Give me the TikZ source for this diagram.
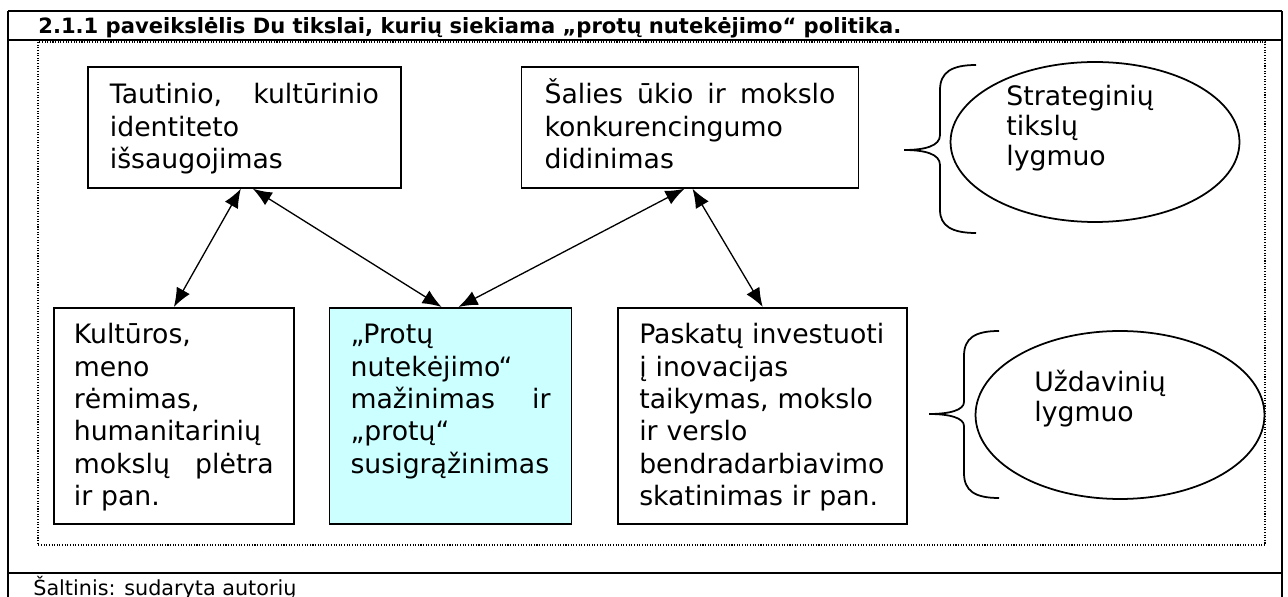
\documentclass[tikz,border=0pt]{standalone}
\usepackage{fontspec}
\setmainfont{DejaVu Sans}
\usepackage{tikz}
\usetikzlibrary{calc,positioning,shapes,arrows.meta}
\definecolor{boxcyan}{RGB}{204,255,255}
\hyphenpenalty=10000
\exhyphenpenalty=10000

\begin{document}
\begin{tikzpicture}[x=0.02cm,y=-0.02cm,
		txt/.style={font=\fontsize{15.2pt}{18.4pt}\selectfont},
		goal/.style={txt,draw,line width=1pt,align=left,inner ysep=0pt,text height=0.74cm,text depth=1.68cm},
		task/.style={txt,draw,line width=1pt,align=left,inner ysep=0pt,text height=0.72cm,text depth=3.6cm},
		link/.style={{Latex[length=0.38cm,width=0.3cm]}-{Latex[length=0.38cm,width=0.3cm]},line width=0.75pt},
		frame/.style={line width=1.2pt},
		level/.style={draw,ellipse,line width=1pt,minimum width=5.78cm,inner sep=0pt},
		leveltxt/.style={align=left,font=\fontsize{15.2pt}{17pt}\selectfont}]
	\useasboundingbox (0,0) rectangle (1288,597);
	\begin{scope}
		\draw[frame] (8,11) -- (1282,11) (8,40) -- (1282,40) (8,573) -- (1282,573)
			(8,11) -- (8,597) (1282,11) -- (1282,597);
		\node(title) [anchor=base west,inner sep=0pt,font=\bfseries\fontsize{12pt}{14pt}\selectfont] at (38,34) {2.1.1 paveikslėlis Du tikslai, kurių siekiama „protų nutekėjimo“ politika.};
		\node(source) [anchor=base west,inner sep=0pt,font=\fontsize{11.8pt}{14pt}\selectfont] at (33,595) {Šaltinis: sudaryta autorių};
		\draw[dash pattern=on 0.6pt off 0.9pt,line width=0.6pt] (38,42) rectangle (1265,545);

		\node(taut) [goal,anchor=north west,inner xsep=0.44cm,text width=5.38cm] at (87,66) {Tautinio,\hfill kultūrinio\\ identiteto\\ išsaugojimas};
		\node(ukio) [goal,right=2.38cm of taut,inner xsep=0.46cm,text width=5.82cm] {Šalies\hfill ūkio\hfill ir\hfill mokslo\\ konkurencingumo\\ didinimas};

		\node(kult) [task,anchor=north west,inner xsep=0.4cm,text width=4cm] at (53,307) {Kultūros,\\ meno\\ rėmimas,\\ humanitarinių\\ mokslų\hfill plėtra\\ ir~pan.};
		\node(prot) [task,right=0.68cm of kult,fill=boxcyan,inner xsep=0.42cm,text width=4cm] {„Protų\\ nutekėjimo“\\ mažinimas\hfill ir\\ „protų“\\ susigrąžinimas};
		\node(pask) [task,right=0.9cm of prot,inner xsep=0.42cm,text width=4.94cm] {Paskatų~investuoti\\ į~inovacijas\\ taikymas,~mokslo\\ ir~verslo\\ bendradarbiavimo\\ skatinimas~ir~pan.};

		\draw[link] ([xshift=-0.07cm]taut.south) -- (kult.north);
		\draw[link] ([xshift=0.17cm]taut.south) -- ([xshift=-0.18cm]prot.north);
		\draw[link] ([xshift=-0.11cm]ukio.south) -- ([xshift=0.16cm]prot.north);
		\draw[link] ([xshift=0.05cm]ukio.south) -- (pask.north);

		\node(strat) [level,minimum height=3.2cm] at (1095,142) {};
		\node(strattxt) [leveltxt] at ([xshift=-0.3cm,yshift=0.28cm]strat.center) {Strateginių\\ tikslų\\ lygmuo};
		\node(uzd) [level,minimum height=3.36cm] at (1120,415) {};
		\node(uzdtxt) [leveltxt] at ([xshift=-0.4cm,yshift=0.32cm]uzd.center) {Uždavinių\\ lygmuo};

		\draw[line width=1pt] (976,65) .. controls (952,65) and (940,72) .. (940,90) -- (940,135)
			.. controls (940,146) and (925,150) .. (904,150) .. controls (925,150) and (940,154) .. (940,165)
			-- (940,210) .. controls (940,226) and (952,233) .. (976,233);
		\draw[line width=1pt] (999,331) .. controls (975,331) and (964,338) .. (964,356) -- (964,402)
			.. controls (964,410) and (950,414) .. (929,414) .. controls (950,414) and (964,418) .. (964,426)
			-- (964,473) .. controls (964,491) and (975,498) .. (999,498);
	\end{scope}
\end{tikzpicture}
\end{document}
